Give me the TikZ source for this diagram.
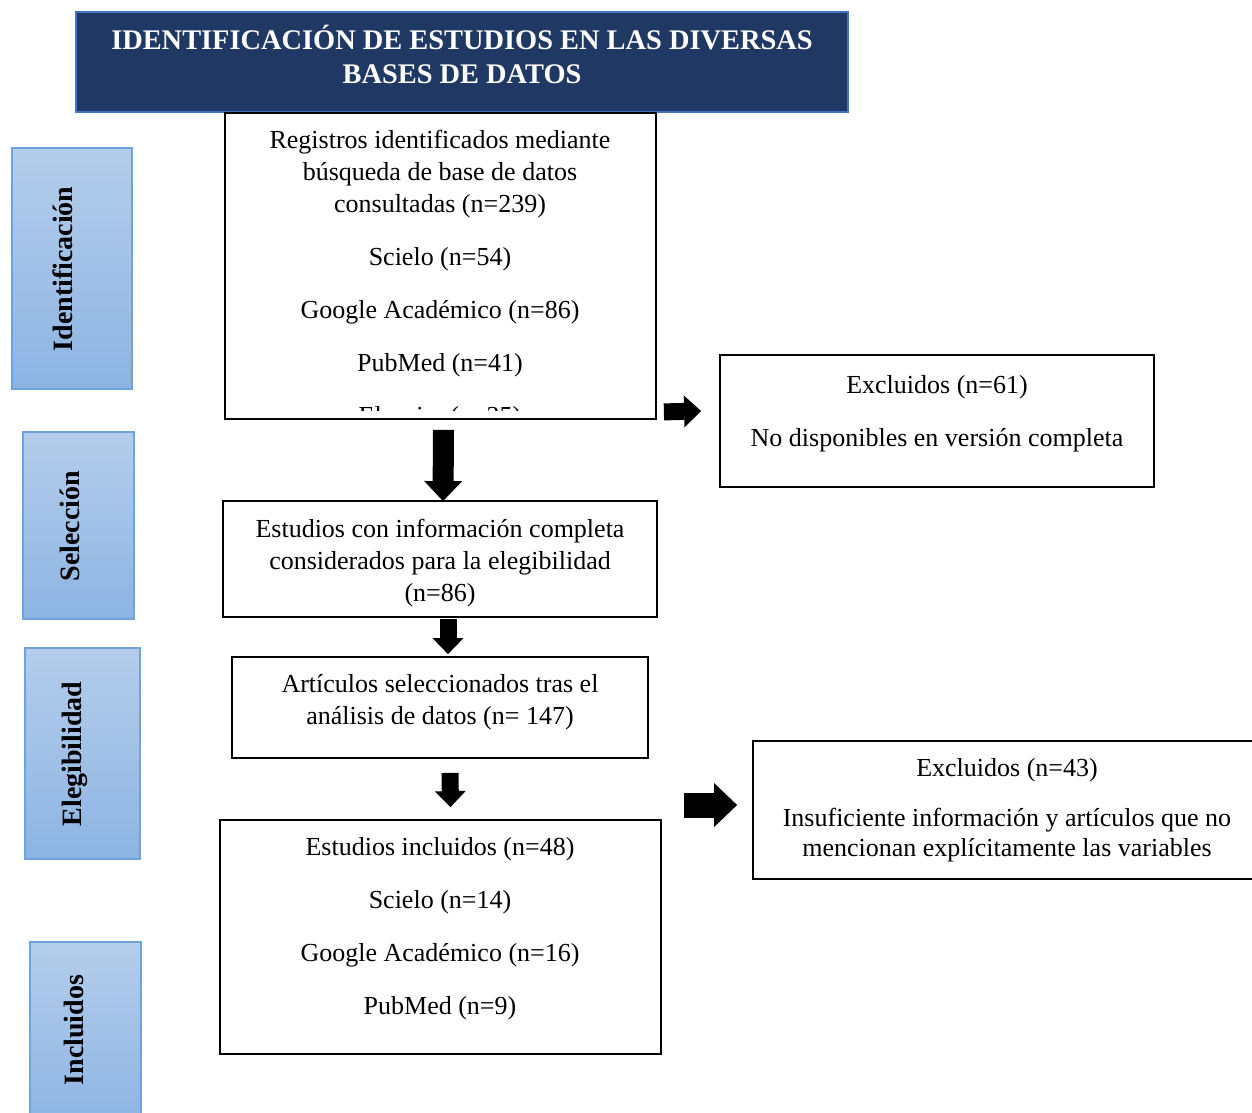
\documentclass[tikz,border=0pt]{standalone}
\usepackage{fontspec}
\setmainfont{Liberation Serif}
\usetikzlibrary{arrows.meta}
\definecolor{azulosc}{RGB}{32,56,100}
\definecolor{azulbor}{RGB}{68,114,196}
\definecolor{celesteA}{RGB}{180,205,235}
\definecolor{celesteB}{RGB}{141,180,227}
\definecolor{celesteBor}{RGB}{111,163,219}
\tikzset{%
    box/.style={draw=black, line width=1.8pt, inner sep=0pt},
    txt/.style={align=center, inner sep=0pt, font=\fontsize{26}{32}\selectfont},
    fase/.style={draw=celesteBor, line width=1.2pt, top color=celesteA, bottom color=celesteB, inner sep=0pt},
    fasetxt/.style={rotate=90, anchor=base, inner sep=0pt, font=\bfseries\fontsize{28}{32}\selectfont}
}

\begin{document}
\begin{tikzpicture}[x=1pt, y=-1pt,
            flecha/.style={line width=#1},
            tipA/.style={-{Triangle[length=20pt,width=38pt,line width=0pt]}},
            tipB/.style={-{Triangle[length=16pt,width=31pt,line width=0pt]}},
            tipC/.style={-{Triangle[length=17pt,width=32pt,line width=0pt]}},
            tipD/.style={-{Triangle[length=23pt,width=44pt,line width=0pt]}}
            ]
            \useasboundingbox (0,0) rectangle (1252,1112);

            \node[draw=azulbor, line width=1.5pt, fill=azulosc, minimum width=772pt, minimum height=100pt, inner sep=0pt] (tit) at (462,62){};
            \node[txt, anchor=north, text=white, font=\bfseries\fontsize{28.4}{34}\selectfont] (titt) at (462,25){IDENTIFICACIÓN DE ESTUDIOS EN LAS DIVERSAS\\BASES DE DATOS};

            \node[fase, minimum width=120pt, minimum height=241pt] (f1) at (72,268.5){};
            \node[fase, minimum width=111pt, minimum height=187pt] (f2) at (78.5,525.5){};
            \node[fase, minimum width=115pt, minimum height=211pt] (f3) at (82.5,753.5){};
            \node[fase, minimum width=111pt, minimum height=186pt] (f4) at (85.5,1035){};
            \node[fasetxt] (f1t) at (72,269){Identificación};
            \node[fasetxt] (f2t) at (79,526){Selección};
            \node[fasetxt] (f3t) at (81,754){Elegibilidad};
            \node[fasetxt] (f4t) at (83,1030){Incluidos};

            \node[box, minimum width=431pt, minimum height=306pt] (b1) at (440.5,266){};
            \begin{scope}
            \clip (b1.north west) rectangle ([yshift=9pt]b1.south east);
            \node[txt, anchor=north] (b1t) at (440,130){Registros identificados mediante\\búsqueda de base de datos\\consultadas (n=239)\\[21pt]Scielo (n=54)\\[21pt]Google Académico (n=86)\\[21pt]PubMed (n=41)\\[21pt]Elsevier (n=25)};
            \end{scope}

            \node[box, minimum width=434pt, minimum height=132pt] (e1) at (937,421){};
            \node[txt, anchor=north] (e1t) at (937,375){Excluidos (n=61)\\[21pt]No disponibles en versión completa};

            \node[box, minimum width=434pt, minimum height=116pt] (b2) at (440,559){};
            \node[txt, anchor=north] (b2t) at (440,519){Estudios con información completa\\considerados para la elegibilidad\\(n=86)};

            \node[box, minimum width=416pt, minimum height=101pt] (b3) at (440,707.5){};
            \node[txt, anchor=north] (b3t) at (440,674){Artículos seleccionados tras el\\análisis de datos (n= 147)};

            \node[box, minimum width=441pt, minimum height=234pt] (b4) at (440.5,937){};
            \node[txt, anchor=north] (b4t) at (440,837){Estudios incluidos (n=48)\\[21pt]Scielo (n=14)\\[21pt]Google Académico (n=16)\\[21pt]PubMed (n=9)};

            \node[box, minimum width=508pt, minimum height=138pt] (e2) at (1007,810){};
            \node[txt, anchor=north] (e2t) at (1007,758){Excluidos (n=43)\\[18pt]Insuficiente información y artículos que no\\[-2pt]mencionan explícitamente las variables};

            \draw[flecha=21pt, tipA] ([xshift=3pt,yshift=-10pt]b1.south) -- ([xshift=3pt,yshift=-1pt]b2.north);
            \draw[flecha=17pt, tipB] ([xshift=8pt,yshift=-1pt]b2.south) -- ([xshift=8pt,yshift=2pt]b3.north);
            \draw[flecha=17pt, tipB] ([xshift=10pt,yshift=-14pt]b3.south) -- ([xshift=10pt,yshift=12pt]b4.north);
            \draw[flecha=17pt, tipC] ([shift={(7pt,8pt)}]b1.south east) -- ([shift={(-18pt,10pt)}]e1.west);
            \draw[flecha=25pt, tipD] ([shift={(-68pt,5pt)}]e2.west) -- ([shift={(-15pt,5pt)}]e2.west);
        \end{tikzpicture}
\end{document}
